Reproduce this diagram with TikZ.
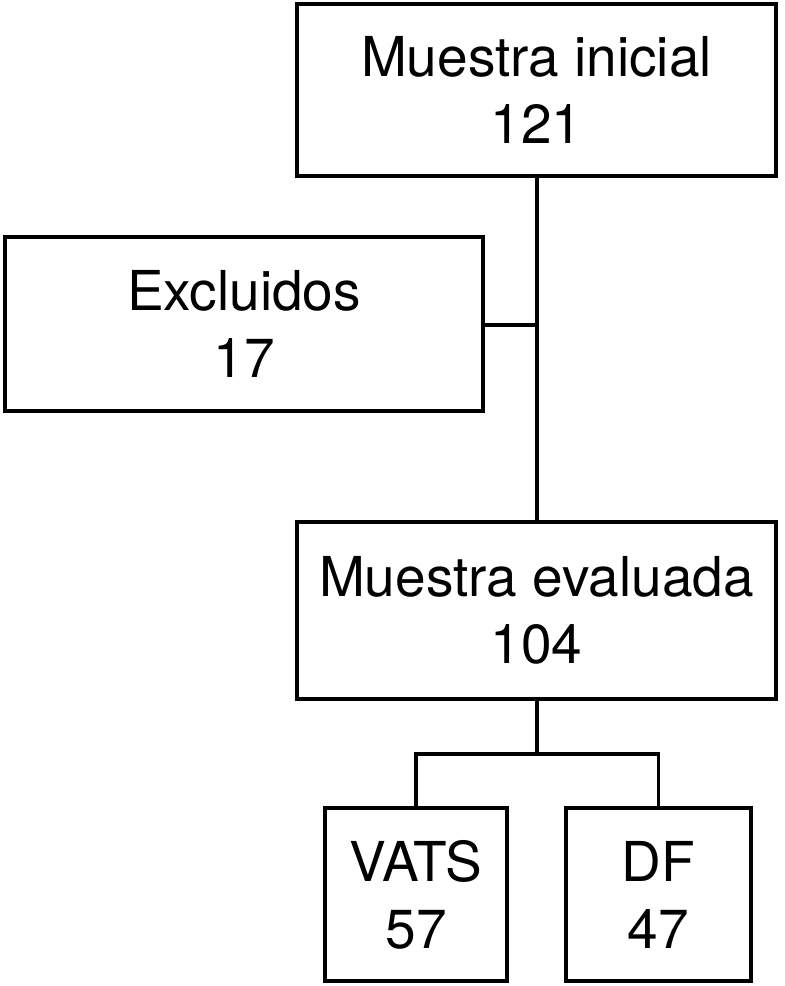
\documentclass[tikz,border=0pt]{standalone}
\usepackage{fontspec}
\setmainfont{TeX Gyre Heros}
\begin{document}
\begin{tikzpicture}[x=1pt,y=-1pt,
  line width=3.5pt,
  box/.style={draw=black, rectangle, inner sep=0pt, align=center,
    font=\fontsize{55}{67}\selectfont},
  conn/.style={draw=black, line width=3.5pt}]
\useasboundingbox (0,0) rectangle (785,986);
\node[box, minimum width=479pt, minimum height=172pt] (ini) at (536.5,90) {Muestra inicial\\121};
\node[box, minimum width=478pt, minimum height=174pt] (exc) at (244,324) {Excluidos\\17};
\node[box, minimum width=479pt, minimum height=177pt] (eva) at (536.5,610.5) {Muestra evaluada\\104};
\node[box, minimum width=182pt, minimum height=173pt] (vats) at (416,894.5) {VATS\\57};
\node[box, minimum width=185pt, minimum height=173pt] (df) at (658.5,894.5) {DF\\47};
\coordinate (jx) at (537,325);
\coordinate (br) at (537,754);
\draw[conn] (ini.south -| jx) -- (eva.north -| jx);
\draw[conn] (exc.east |- jx) -- (jx);
\draw[conn] (eva.south -| br) -- (br);
\draw[conn] (vats.north) |- (br) -| (df.north);
\end{tikzpicture}
\end{document}
